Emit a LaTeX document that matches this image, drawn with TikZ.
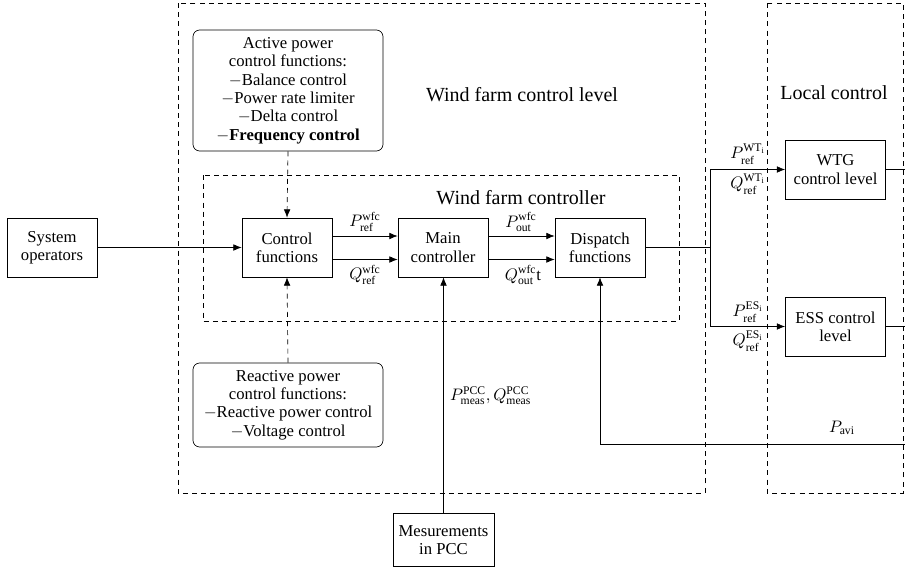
\documentclass[tikz,border=0pt]{standalone}
\usepackage{fontspec}
\setmainfont{LiberationSerif}[Extension=.ttf,UprightFont=*-Regular,BoldFont=*-Bold,ItalicFont=*-Italic,BoldItalicFont=*-BoldItalic]
\usetikzlibrary{arrows.meta}
\begin{document}
\begin{tikzpicture}[x=0.6pt,y=-0.6pt,
  blk/.style={draw,align=center,inner sep=1pt,font=\fontsize{10}{11}\selectfont,minimum width=54pt,minimum height=35.4pt},
  rblk/.style={draw,rounded corners=4pt,align=center,inner sep=1pt,font=\fontsize{10}{11}\selectfont,minimum width=114pt},
  region/.style={draw,dash pattern=on 3pt off 2.5pt},
  arr/.style={-{Latex[length=5pt,width=4pt]}},
  darr/.style={-{Latex[length=5pt,width=4pt]},dash pattern=on 3pt off 2.5pt},
  ttl/.style={font=\fontsize{12}{14}\selectfont},
  lbl/.style={font=\fontsize{10}{11}\selectfont,inner sep=1pt}]
\useasboundingbox (0,0) rectangle (905,573);
% regions
\draw[region] (178,3) rectangle (705,493);
\draw[region] (767,3) rectangle (903,493);
\draw[region] (203,175) rectangle (679,321);
\node[ttl] (t1) at (522,95) {Wind farm control level};
\node[ttl] (t2) at (834,93) {Local control};
\node[ttl] (t3) at (521,198) {Wind farm controller};
% blocks
\node[blk] (sys) at (52,247.5) {System\\operators};
\node[blk] (cf) at (287,247.5) {Control\\functions};
\node[blk] (mc) at (443,247.5) {Main\\controller};
\node[blk] (df) at (600,247.5) {Dispatch\\functions};
\node[blk,minimum width=60pt] (wtg) at (835.5,169.5) {WTG\\control level};
\node[blk,minimum width=60pt] (ess) at (835.5,326.5) {ESS control\\level};
\node[blk,minimum width=60.6pt,minimum height=32pt] (meas) at (443.5,540) {Mesurements\\in PCC};
\node[rblk,minimum height=72.6pt] (act) at (288,90.5) {Active power\\control functions:\\$-$Balance control\\$-$Power rate limiter\\$-$Delta control\\$-$\textbf{Frequency control}};
\node[rblk,minimum height=50.4pt] (rea) at (288,405) {Reactive power\\control functions:\\$-$Reactive power control\\$-$Voltage control};
% connectors
\draw[arr] (sys.east) -- (cf.west);
\draw[darr] (act.south) -- (cf.north);
\draw[darr] (rea.north) -- (cf.south);
\draw[arr] ([yshift=6.9pt]cf.east) -- ([yshift=6.9pt]mc.west);
\draw[arr] ([yshift=-7.2pt]cf.east) -- ([yshift=-7.2pt]mc.west);
\draw[arr] ([yshift=6.9pt]mc.east) -- ([yshift=6.9pt]df.west);
\draw[arr] ([yshift=-7.2pt]mc.east) -- ([yshift=-7.2pt]df.west);
\node[lbl] (l1) at (365,222) {$P^{\mathrm{wfc}}_{\mathrm{ref}}$};
\node[lbl] (l2) at (365,275) {$Q^{\mathrm{wfc}}_{\mathrm{ref}}$};
\node[lbl] (l3) at (521,222) {$P^{\mathrm{wfc}}_{\mathrm{out}}$};
\node[lbl] (l4) at (523,275) {$Q^{\mathrm{wfc}}_{\mathrm{out}}$t};
\coordinate (j) at (710.5,247.5);
\draw (df.east) -- (j);
\draw[arr] (j) |- (wtg.west);
\draw[arr] (j) |- (ess.west);
\node[lbl] (l5) at (748,154) {$P^{\mathrm{WT_i}}_{\mathrm{ref}}$};
\node[lbl] (l6) at (748,184) {$Q^{\mathrm{WT_i}}_{\mathrm{ref}}$};
\node[lbl] (l7) at (748,312) {$P^{\mathrm{ES_i}}_{\mathrm{ref}}$};
\node[lbl] (l8) at (748,341) {$Q^{\mathrm{ES_i}}_{\mathrm{ref}}$};
\coordinate (wo) at (905,169.5);
\coordinate (eo) at (905,326.5);
\draw (wtg.east) -- (wo);
\draw (ess.east) -- (eo);
\coordinate (pa) at (905,444);
\draw[arr] (pa) -| (df.south);
\node[lbl] (l9) at (842,428) {$P_{\mathrm{avi}}$};
\draw[arr] (meas.north) -- (meas.north |- mc.south);
\node[lbl,anchor=west] (l10) at (448,396) {$P^{\mathrm{PCC}}_{\mathrm{meas}},Q^{\mathrm{PCC}}_{\mathrm{meas}}$};
\end{tikzpicture}
\end{document}
